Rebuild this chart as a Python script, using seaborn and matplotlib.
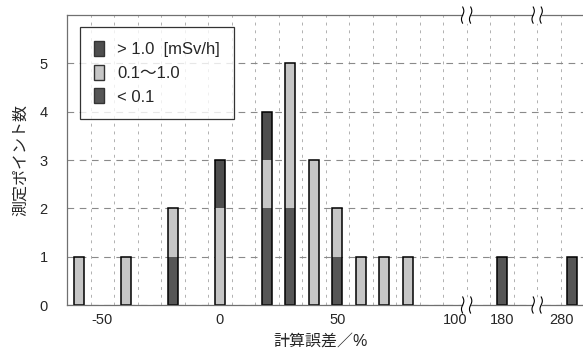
import numpy as np
import matplotlib
matplotlib.use('Agg')
import matplotlib.pyplot as plt
import matplotlib.transforms as mtransforms
from matplotlib.patches import Patch
import seaborn as sns

sns.set_style('white')
plt.rcParams['font.family'] = ['Liberation Sans', 'Noto Sans CJK JP', 'DejaVu Sans']

# 計算誤差のクラス (%), 101 以上は省略軸
categories = ['-60', '-50', '-40', '-30', '-20', '-10', '0', '10', '20', '30', '40',
              '50', '60', '70', '80', '90', '100', '170', '180', '190', '270', '280']
low = [0, 0, 0, 0, 1, 0, 0, 0, 2, 2, 0, 1, 0, 0, 0, 0, 0, 0, 1, 0, 0, 1]    # < 0.1
mid = [1, 0, 1, 0, 1, 0, 2, 0, 1, 3, 3, 1, 1, 1, 1, 0, 0, 0, 0, 0, 0, 0]    # 0.1～1.0
high = [0, 0, 0, 0, 0, 0, 1, 0, 1, 0, 0, 0, 0, 0, 0, 0, 0, 0, 0, 0, 0, 0]   # > 1.0
tick_labels = ['-50', '0', '50', '100', '180', '280']
breaks_after = ['100', '190']

DARK_HI = '#4e4e4e'
LIGHT = '#c6c6c6'
DARK_LO = '#565656'

low = np.array(low)
mid = np.array(mid)
high = np.array(high)

fig = plt.figure(figsize=(5.83, 3.51), dpi=100)
ax = fig.add_axes([0.115, 0.131, 0.887, 0.826])

bw = 0.43
layers = [(low + mid + high, DARK_HI), (low + mid, LIGHT), (low, DARK_LO)]
for vals, c in layers:
    sns.barplot(x=categories, y=vals, order=categories, color=c, width=bw,
                errorbar=None, linewidth=0, ax=ax)
sns.barplot(x=categories, y=low + mid + high, order=categories, width=bw,
            errorbar=None, facecolor='none', edgecolor='black', linewidth=1.1, ax=ax)

# 高さ 0 の棒は描かない
for p in ax.patches:
    if p.get_height() == 0:
        p.set_visible(False)

n = len(categories)
ax.set_xlim(-0.5, n - 0.5)
ax.set_ylim(0, 6)
ax.set_yticks(range(0, 6))
ax.set_xticks([categories.index(t) for t in tick_labels])
ax.set_xticklabels(tick_labels)
ax.set_xticks(np.arange(0.5, n - 0.5, 1), minor=True)
ax.tick_params(axis='both', which='both', length=0, labelsize=10.5)
ax.tick_params(axis='y', pad=14)
ax.tick_params(axis='x', pad=6)

# 右端のラベルは少し左へ
last = ax.get_xticklabels()[-1]
last.set_transform(last.get_transform() +
                   mtransforms.ScaledTranslation(-8 / 72, 0, fig.dpi_scale_trans))

ax.set_axisbelow(True)
ax.grid(axis='y', which='major', linestyle=(0, (6, 5)), color='#8a8a8a', linewidth=0.8)
ax.grid(axis='x', which='minor', linestyle=(0, (3, 5)), color='#b0b0b0', linewidth=0.7)
ax.grid(axis='x', which='major', visible=False)

for side in ['left', 'bottom', 'top']:
    ax.spines[side].set_color('#707070')
    ax.spines[side].set_linewidth(0.9)
ax.spines['right'].set_visible(False)

# 軸の省略記号
for b in breaks_after:
    xb = categories.index(b) + 0.5
    for y0 in [0, 6]:
        t = np.linspace(-1, 1, 40)
        yy = y0 + 0.17 * t
        off = 0.05 * np.sin(np.pi * t)
        ax.fill_betweenx(yy, xb - 0.17 + off, xb + 0.17 + off, color='white',
                         zorder=5, clip_on=False, linewidth=0)
        ax.plot(xb - 0.17 + off, yy, color='black', lw=0.8, zorder=6, clip_on=False)
        ax.plot(xb + 0.17 + off, yy, color='black', lw=0.8, zorder=6, clip_on=False)

ax.set_xlabel('計算誤差／%', fontsize=11.5, labelpad=3)
ax.xaxis.set_label_coords(0.49, -0.1)
ax.set_ylabel('測定ポイント数', fontsize=11.5, labelpad=8)

handles = [Patch(facecolor=DARK_HI, edgecolor='#333333', label='> 1.0  [mSv/h]'),
           Patch(facecolor=LIGHT, edgecolor='#333333', label='0.1～1.0'),
           Patch(facecolor=DARK_LO, edgecolor='#333333', label='< 0.1')]
leg = ax.legend(handles=handles, loc='upper left', bbox_to_anchor=(0.025, 0.959),
                fontsize=12, frameon=True, fancybox=False, edgecolor='black',
                handlelength=0.6, handleheight=1.0, handletextpad=0.8,
                labelspacing=0.45, borderpad=0.85, borderaxespad=0)
leg.get_frame().set_linewidth(0.9)

plt.savefig('out.png', dpi=100)
plt.close()
